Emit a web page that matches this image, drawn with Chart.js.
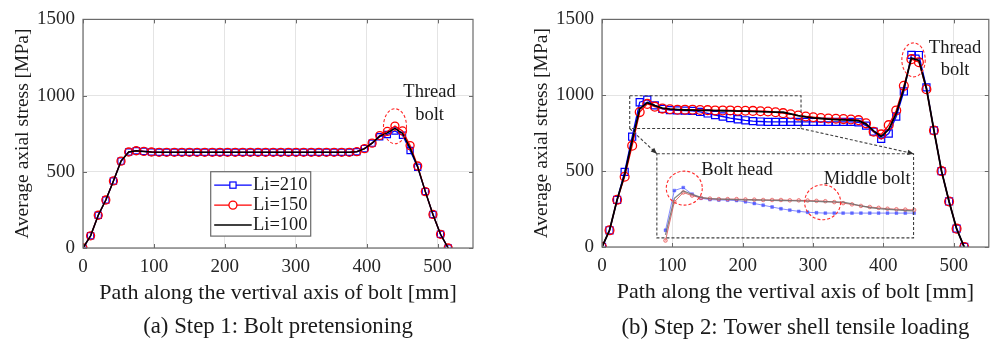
<!DOCTYPE html>
<html><head><meta charset="utf-8">
<script src="https://cdn.jsdelivr.net/npm/chart.js@4.4.1/dist/chart.umd.min.js"></script>
<style>
html,body{margin:0;padding:0;background:#fff;}
#wrap{position:relative;width:995px;height:342px;overflow:hidden;background:#fff;}
#c1{position:absolute;left:0;top:0;}
#c2{position:absolute;left:497px;top:0;}
</style></head><body>
<div id="wrap"><canvas id="c1" width="497" height="342"></canvas><canvas id="c2" width="498" height="342"></canvas></div>
<script>
// ---------------- DATA ----------------
const pathMM = [0,10.7,21.5,32.2,42.9,53.6,64.4,75.1,85.8,96.6,107.3,118,128.8,139.5,150.2,160.9,171.7,182.4,193.1,203.9,214.6,225.3,236,246.8,257.5,268.2,279,289.7,300.4,311.1,321.9,332.6,343.3,354,364.8,375.5,386.2,397,407.7,418.4,429.2,439.9,450.6,461.3,472,482.8,493.5,504.2,515];

const seriesLabels = ['Li=210','Li=150','Li=100'];

// (a) Step 1: Bolt pretensioning
const step1Li210 = [0,80,215,315,440,570,630,638,634,630,
  628,628,628,628,628,628,628,628,628,628,628,628,628,628,628,628,628,628,628,628,628,628,628,628,628,628,
  632,652,688,730,745,768,740,640,530,370,220,90,0];
const step1Li150 = [0,80,215,315,440,570,630,638,634,630,
  628,628,628,628,628,628,628,628,628,628,628,628,628,628,628,628,628,628,628,628,628,628,628,628,628,628,
  632,652,688,738,765,800,768,672,538,370,220,90,0];
const step1Li100 = [0,80,215,315,440,570,630,638,634,630,
  628,628,628,628,628,628,628,628,628,628,628,628,628,628,628,628,628,628,628,628,628,628,628,628,628,628,
  632,652,688,734,755,785,752,655,532,370,220,90,0];

// (b) Step 2: Tower shell tensile loading
const step2Li210 = [0,110,311,495,727,954,971,933,910,902,
  900,899,897,890,880,870,860,850,842,835,
  830,827,825,825,825,825,825,825,825,825,
  825,825,825,825,822,800,760,713,748,860,
  1025,1266,1265,1052,768,500,300,121,0];
const step2Li150 = [0,110,311,463,668,889,943,925,912,908,
  905,905,905,903,902,900,900,900,898,898,
  897,895,893,888,882,875,866,860,855,850,
  847,845,843,840,836,815,760,742,803,900,
  1062,1238,1218,1040,768,500,300,121,0];
const step2Li100 = [0,110,311,478,700,910,952,932,915,908,
  905,903,902,901,900,899,898,897,896,895,
  894,892,890,889,888,878,866,857,851,847,
  843,840,838,836,832,810,765,728,775,880,
  1045,1245,1230,1045,768,500,300,121,0];

const xTickValues = [0,100,200,300,400,500];
const yTickValues = [0,500,1000,1500];
const insetFirst = 4, insetLast = 32;   // point indices shown in the zoomed inset

const captions = ['(a) Step 1: Bolt pretensioning','(b) Step 2: Tower shell tensile loading'];
const xTitle = 'Path along the vertival axis of bolt [mm]';
const yTitle = 'Average axial stress [MPa]';

// annotation placements (data coordinates)
const notesStep1 = {
  ellipses:[{x:440,y:799,rx:11.5,ry:17.5}],
  texts:[{x:488.7,y:1022,t:'Thread'},{x:488.7,y:875,t:'bolt'}]
};
const notesStep2 = {
  ellipses:[{x:443,y:1233,rx:11.7,ry:17},{x:117,y:388,rx:18,ry:17},{x:313.7,y:295,rx:18,ry:17.5}],
  texts:[{x:502,y:1311,t:'Thread'},{x:502,y:1164,t:'bolt'},{x:192,y:506,t:'Bolt head'},{x:377,y:446,t:'Middle bolt'}],
  rects:[{x0:39.4,x1:283,y0:781,y1:997},{x0:78,x1:443,y0:60,y1:615}],
  arrows:[{x0:39.4,y0:781,x1:78,y1:615},{x0:283,y0:781,x1:443,y1:615}]
};

// ---------------- HELPERS ----------------
const SERIF = '"Liberation Serif","Times New Roman",serif';
Chart.defaults.font.family = SERIF;
Chart.defaults.color = '#1a1a1a';

function pts(ys, from, to){
  from = from===undefined?0:from; to = to===undefined?ys.length-1:to;
  const out=[]; for(let i=from;i<=to;i++) out.push({x:pathMM[i], y:ys[i]}); return out;
}

const FRAME = '#6a6a6a';

const framePlugin = {
  id:'frame',
  afterDatasetsDraw(chart){
    const {ctx, chartArea:a} = chart;
    const xs = chart.scales.x, ys = chart.scales.y;
    ctx.save();
    ctx.strokeStyle = FRAME; ctx.lineWidth = 1.2; ctx.setLineDash([]);
    ctx.strokeRect(a.left, a.top, a.right-a.left, a.bottom-a.top);
    ctx.lineWidth = 1;
    const L = 4;
    xTickValues.forEach(v=>{ const p=Math.round(xs.getPixelForValue(v))+0.5;
      ctx.beginPath(); ctx.moveTo(p,a.bottom); ctx.lineTo(p,a.bottom-L); ctx.moveTo(p,a.top); ctx.lineTo(p,a.top+L); ctx.stroke(); });
    yTickValues.forEach(v=>{ const p=Math.round(ys.getPixelForValue(v))+0.5;
      ctx.beginPath(); ctx.moveTo(a.left,p); ctx.lineTo(a.left+L,p); ctx.moveTo(a.right,p); ctx.lineTo(a.right-L,p); ctx.stroke(); });
    ctx.restore();
  }
};

const notesPlugin = {
  id:'notes',
  afterDatasetsDraw(chart, args, o){
    if(!o || !o.data) return;
    const d = o.data, ctx = chart.ctx;
    const X = v=>chart.scales.x.getPixelForValue(v), Y = v=>chart.scales.y.getPixelForValue(v);
    ctx.save();
    ctx.strokeStyle = '#404040'; ctx.lineWidth = 1.1; ctx.setLineDash([3,2]);
    (d.rects||[]).forEach(r=>{
      ctx.strokeRect(X(r.x0), Y(r.y1), X(r.x1)-X(r.x0), Y(r.y0)-Y(r.y1));
    });
    (d.arrows||[]).forEach(r=>{
      const x0=X(r.x0), y0=Y(r.y0), x1=X(r.x1), y1=Y(r.y1);
      ctx.setLineDash([3,2]);
      ctx.beginPath(); ctx.moveTo(x0,y0); ctx.lineTo(x1,y1); ctx.stroke();
      const ang = Math.atan2(y1-y0, x1-x0), h=6, w=2.6;
      ctx.setLineDash([]); ctx.fillStyle='#303030';
      ctx.beginPath(); ctx.moveTo(x1,y1);
      ctx.lineTo(x1 - h*Math.cos(ang) + w*Math.sin(ang), y1 - h*Math.sin(ang) - w*Math.cos(ang));
      ctx.lineTo(x1 - h*Math.cos(ang) - w*Math.sin(ang), y1 - h*Math.sin(ang) + w*Math.cos(ang));
      ctx.closePath(); ctx.fill();
    });
    ctx.strokeStyle = '#ff2a2a'; ctx.lineWidth = 1.1; ctx.setLineDash([3,2]);
    (d.ellipses||[]).forEach(e=>{
      ctx.beginPath(); ctx.ellipse(X(e.x), Y(e.y), e.rx, e.ry, 0, 0, Math.PI*2); ctx.stroke();
    });
    ctx.setLineDash([]);
    ctx.fillStyle = '#1a1a1a'; ctx.font = '18.5px '+SERIF; ctx.textAlign='center'; ctx.textBaseline='middle';
    (d.texts||[]).forEach(t=>{ ctx.fillText(t.t, X(t.x), Y(t.y)); });
    ctx.restore();
  }
};

const captionPlugin = {
  id:'caption',
  afterDraw(chart, args, o){
    if(!o || !o.text) return;
    const ctx = chart.ctx, a = chart.chartArea;
    ctx.save(); ctx.fillStyle='#1a1a1a'; ctx.font='22.8px '+SERIF; ctx.textAlign='center'; ctx.textBaseline='middle';
    ctx.fillText(o.text, (a.left+a.right)/2, o.y);
    ctx.restore();
  }
};

const boxLegendPlugin = {
  id:'boxLegend',
  afterDraw(chart, args, o){
    if(!o || !o.show) return;
    const ctx = chart.ctx, a = chart.chartArea;
    const x0 = a.left + o.dx, y0 = a.top + o.dy;
    ctx.save();
    ctx.fillStyle='#fff'; ctx.fillRect(x0,y0,o.w,o.h);
    ctx.strokeStyle=FRAME; ctx.lineWidth=1.2; ctx.strokeRect(x0,y0,o.w,o.h);
    ctx.font='18.5px '+SERIF; ctx.textBaseline='middle'; ctx.textAlign='left';
    o.order.forEach((di,row)=>{
      const ds = chart.data.datasets[di];
      const y = y0 + 13.4 + row*20;
      const lx0 = x0+3.5, lx1 = x0+41;
      ctx.strokeStyle = ds.borderColor; ctx.lineWidth = ds.borderWidth;
      ctx.beginPath(); ctx.moveTo(lx0,y); ctx.lineTo(lx1,y); ctx.stroke();
      const mx = (lx0+lx1)/2;
      if (ds.pointRadius>0){
        ctx.lineWidth = ds.pointBorderWidth; ctx.strokeStyle = ds.pointBorderColor;
        if (ds.pointStyle==='rect'){ const s=ds.pointRadius*Math.SQRT2; ctx.fillStyle='#fff'; ctx.fillRect(mx-s/2,y-s/2,s,s); ctx.strokeRect(mx-s/2,y-s/2,s,s); }
        else { ctx.fillStyle='#fff'; ctx.beginPath(); ctx.arc(mx,y,ds.pointRadius,0,Math.PI*2); ctx.fill(); ctx.stroke(); }
      }
      ctx.fillStyle='#1a1a1a';
      ctx.fillText(ds.label, x0+42.3, y+0.5);
    });
    ctx.restore();
  }
};

function mainDatasets(b, r, k, big){
  return [
    {label:seriesLabels[2], data:pts(k), borderColor:'#000000', borderWidth:big?1.8:1.5, pointRadius:0, pointHoverRadius:0},
    {label:seriesLabels[1], data:pts(r), borderColor:'#ff0000', borderWidth:1.3, pointStyle:'circle', pointRadius:big?4.4:4,
      pointBorderColor:'#ff0000', pointBackgroundColor:'rgba(0,0,0,0)', pointBorderWidth:1.3},
    {label:seriesLabels[0], data:pts(b), borderColor:'#0000ff', borderWidth:1.3, pointStyle:'rect', pointRadius:big?5:4.4,
      pointBorderColor:'#0000ff', pointBackgroundColor:'rgba(0,0,0,0)', pointBorderWidth:1.2}
  ];
}

function scalesFor(xH, yW, yTitlePad, xTitlePad){
  const gridCol = '#e4e4e4';
  return {
    x:{type:'linear', min:0, max:550,
      afterBuildTicks:s=>{ s.ticks = xTickValues.map(v=>({value:v})); },
      afterFit:s=>{ s.height = xH; },
      grid:{color:gridCol, drawTicks:false, lineWidth:1},
      border:{display:false},
      ticks:{padding:8, font:{size:19}, color:'#262626', maxRotation:0, callback:v=>String(v)},
      title:{display:true, text:xTitle, font:{size:22}, color:'#1a1a1a', padding:{top:0,bottom:xTitlePad}}},
    y:{type:'linear', min:0, max:1500,
      afterBuildTicks:s=>{ s.ticks = yTickValues.map(v=>({value:v})); },
      afterFit:s=>{ s.width = yW; },
      grid:{color:gridCol, drawTicks:false, lineWidth:1},
      border:{display:false},
      ticks:{padding:8, font:{size:19}, color:'#262626', callback:v=>String(v)},
      title:{display:true, text:yTitle, font:{size:19.5}, color:'#1a1a1a', padding:{top:yTitlePad,bottom:0}}}
  };
}

// ---------------- CHART (a) ----------------
new Chart(document.getElementById('c1'), {
  type:'line',
  data:{datasets: mainDatasets(step1Li210, step1Li150, step1Li100, false)},
  options:{
    responsive:false, animation:false, events:[],
    layout:{padding:{left:0, right:24, top:16, bottom:0}},
    scales: scalesFor(94, 83, 11.3, 36),
    plugins:{legend:{display:false}, tooltip:{enabled:false},
      notes:{data:notesStep1},
      caption:{text:captions[0], y:327},
      boxLegend:{show:true, dx:127.7, dy:152.3, w:100, h:64.4, order:[2,1,0]}}
  },
  plugins:[framePlugin, notesPlugin, captionPlugin, boxLegendPlugin]
});

// ---------------- CHART (b) ----------------
const insetDatasets = [
  {label:'inset '+seriesLabels[2], data:pts(step2Li100, insetFirst, insetLast), xAxisID:'xi', yAxisID:'yi',
    borderColor:'rgba(110,110,110,0.85)', borderWidth:1.3, pointRadius:0},
  {label:'inset '+seriesLabels[1], data:pts(step2Li150, insetFirst, insetLast), xAxisID:'xi', yAxisID:'yi',
    borderColor:'rgba(215,60,60,0.75)', borderWidth:1, pointStyle:'circle', pointRadius:1.8,
    pointBorderColor:'rgba(225,70,70,0.8)', pointBackgroundColor:'rgba(255,180,180,0.6)', pointBorderWidth:0.8},
  {label:'inset '+seriesLabels[0], data:pts(step2Li210, insetFirst, insetLast), xAxisID:'xi', yAxisID:'yi',
    borderColor:'rgba(80,90,255,0.7)', borderWidth:1, pointStyle:'rect', pointRadius:2,
    pointBorderColor:'rgba(70,80,255,0.8)', pointBackgroundColor:'rgba(70,80,255,0.8)', pointBorderWidth:0.5}
];
const sc2 = scalesFor(95, 83, 11, 37);
sc2.xi = {type:'linear', display:false, min:-33.8, max:433.5};
sc2.yi = {type:'linear', display:false, min:631.2, max:1932.6};

new Chart(document.getElementById('c2'), {
  type:'line',
  data:{datasets: mainDatasets(step2Li210, step2Li150, step2Li100, true).concat(insetDatasets)},
  options:{
    responsive:false, animation:false, events:[],
    layout:{padding:{left:22, right:3, top:16, bottom:0}},
    scales: sc2,
    plugins:{legend:{display:false}, tooltip:{enabled:false},
      notes:{data:notesStep2},
      caption:{text:captions[1], y:328}}
  },
  plugins:[framePlugin, notesPlugin, captionPlugin]
});
</script>
</body></html>
